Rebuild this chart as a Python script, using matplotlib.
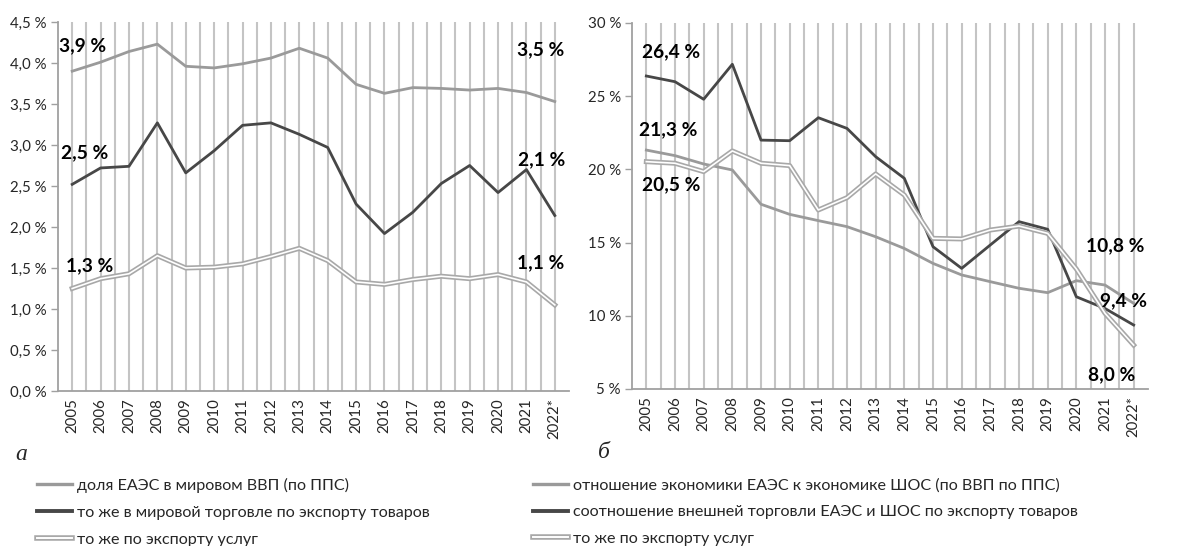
import matplotlib
matplotlib.use('Agg')
import matplotlib.pyplot as plt
from matplotlib.lines import Line2D
from matplotlib.legend_handler import HandlerTuple
from matplotlib.ticker import FuncFormatter, FixedLocator

plt.rcParams['font.family'] = ['Lato', 'DejaVu Sans']

# ---------------- data ----------------
years = list(range(2005, 2023))
year_labels = [str(y) for y in years[:-1]] + ['2022*']

# panel а (% of world)
gdp_share = [3.90, 4.01, 4.14, 4.23, 3.96, 3.94, 3.99, 4.06, 4.18, 4.06,
             3.74, 3.63, 3.70, 3.69, 3.67, 3.69, 3.64, 3.53]
goods_share = [2.52, 2.72, 2.74, 3.27, 2.66, 2.93, 3.24, 3.27, 3.13, 2.97,
               2.28, 1.92, 2.18, 2.53, 2.75, 2.42, 2.70, 2.14]
services_share = [1.25, 1.37, 1.43, 1.65, 1.50, 1.51, 1.55, 1.64, 1.74, 1.59,
                  1.33, 1.30, 1.36, 1.40, 1.37, 1.42, 1.33, 1.05]

# panel б (EAEU vs SCO, %)
gdp_ratio = [21.32, 20.94, 20.37, 19.96, 17.62, 16.93, 16.50, 16.09, 15.40, 14.60,
             13.58, 12.79, 12.33, 11.88, 11.58, 12.40, 12.10, 10.85]
goods_ratio = [26.38, 25.99, 24.79, 27.18, 22.00, 21.96, 23.53, 22.80, 20.87, 19.39,
               14.72, 13.24, 14.84, 16.43, 15.91, 11.30, 10.50, 9.37]
services_ratio = [20.53, 20.42, 19.85, 21.26, 20.42, 20.26, 17.23, 18.07, 19.69, 18.25,
                  15.29, 15.25, 15.86, 16.13, 15.63, 13.20, 10.17, 8.00]

legend_a = ['доля ЕАЭС в мировом ВВП (по ППС)',
            'то же в мировой торговле по экспорту товаров',
            'то же по экспорту услуг']
legend_b = ['отношение экономики ЕАЭС к экономике ШОС (по ВВП по ППС)',
            'соотношение внешней торговли ЕАЭС и ШОС по экспорту товаров',
            'то же по экспорту услуг']

labels_a = ['3,9 %', '2,5 %', '1,3 %', '3,5 %', '2,1 %', '1,1 %']
labels_b = ['26,4 %', '21,3 %', '20,5 %', '10,8 %', '9,4 %', '8,0 %']

# ---------------- style ----------------
C_LIGHT = '#9a9a9a'
C_DARK = '#474747'
C_DOUBLE = '#a8a8a8'
C_GRID = '#c4c4c4'
C_AXIS = '#a0a0a0'
TXT = '#262626'

W, H = 1178, 546
fig = plt.figure(figsize=(W / 100, H / 100), dpi=100)


def px_axes(x0, x1, ytop, ybot):
    return fig.add_axes([x0 / W, 1 - ybot / H, (x1 - x0) / W, (ybot - ytop) / H])


def style(ax, ylim, yticks, fmt):
    ax.set_xlim(2004.5, 2022.5)
    ax.set_ylim(*ylim)
    ax.xaxis.set_major_locator(FixedLocator(years))
    ax.set_xticklabels(year_labels, rotation=90, fontsize=10.8, color=TXT)
    ax.xaxis.set_minor_locator(FixedLocator([y + 0.5 for y in years[:-1]]))
    ax.grid(True, which='both', axis='x', color=C_GRID, lw=1.5, zorder=0)
    ax.set_yticks(yticks)
    ax.yaxis.set_major_formatter(FuncFormatter(fmt))
    ax.tick_params(axis='y', labelsize=10.8, labelcolor=TXT, color=C_AXIS,
                   length=5, width=1, pad=3)
    ax.tick_params(axis='x', which='both', length=0, pad=5)
    for s in ['top', 'right']:
        ax.spines[s].set_visible(False)
    for s in ['left', 'bottom']:
        ax.spines[s].set_color(C_AXIS)
        ax.spines[s].set_linewidth(1.3)
    ax.set_axisbelow(True)


def plot_double(ax, x, y):
    ax.plot(x, y, color=C_DOUBLE, lw=3.6, solid_joinstyle='round', zorder=3)
    ax.plot(x, y, color='white', lw=1.2, solid_joinstyle='round', zorder=4)


# ---------------- panel а ----------------
ax1 = px_axes(58, 569, 22, 391)
style(ax1, (0, 4.5), [i * 0.5 for i in range(10)],
      lambda v, p: f'{v:.1f} %'.replace('.', ','))
ax1.plot(years, gdp_share, color=C_LIGHT, lw=2.0, zorder=3)
ax1.plot(years, goods_share, color=C_DARK, lw=2.0, zorder=3)
plot_double(ax1, years, services_share)

lab_kw = dict(fontsize=13.8, fontweight='bold', color='black', va='center', zorder=5)
ax1.text(2004.55, 4.21, labels_a[0], ha='left', **lab_kw)
ax1.text(2004.61, 2.90, labels_a[1], ha='left', **lab_kw)
ax1.text(2004.79, 1.53, labels_a[2], ha='left', **lab_kw)
ax1.text(2022.35, 4.16, labels_a[3], ha='right', **lab_kw)
ax1.text(2022.38, 2.82, labels_a[4], ha='right', **lab_kw)
ax1.text(2022.35, 1.56, labels_a[5], ha='right', **lab_kw)

# ---------------- panel б ----------------
ax2 = px_axes(632, 1148, 23, 389)
style(ax2, (5, 30), [5, 10, 15, 20, 25, 30], lambda v, p: f'{v:.0f} %')
ax2.plot(years, gdp_ratio, color=C_LIGHT, lw=2.0, zorder=3)
ax2.plot(years, goods_ratio, color=C_DARK, lw=2.0, zorder=3)
plot_double(ax2, years, services_ratio)

ax2.text(2004.84, 28.04, labels_b[0], ha='left', **lab_kw)
ax2.text(2004.73, 22.74, labels_b[1], ha='left', **lab_kw)
ax2.text(2004.84, 18.93, labels_b[2], ha='left', **lab_kw)
ax2.text(2022.39, 14.77, labels_b[3], ha='right', **lab_kw)
ax2.text(2022.46, 11.03, labels_b[4], ha='right', **lab_kw)
ax2.text(2022.07, 5.96, labels_b[5], ha='right', **lab_kw)

# ---------------- panel letters ----------------
fig.text(21 / W, 1 - 454 / H, 'а', fontsize=17, style='italic',
         family='Liberation Serif', ha='center', va='center', color=TXT)
fig.text(604 / W, 1 - 452 / H, 'б', fontsize=17, style='italic',
         family='Liberation Serif', ha='center', va='center', color=TXT)

# ---------------- legends ----------------
def handles():
    h1 = Line2D([], [], color=C_LIGHT, lw=2.4)
    h2 = Line2D([], [], color=C_DARK, lw=2.8)
    h3 = (Line2D([], [], color=C_DOUBLE, lw=4.0), Line2D([], [], color='white', lw=1.4))
    return [h1, h2, h3]


leg_kw = dict(loc='upper left', frameon=False, fontsize=11.6, handlelength=2.2,
              handletextpad=0.3, labelspacing=0.78, borderpad=0, borderaxespad=0,
              handler_map={tuple: HandlerTuple(ndivide=1, pad=0)})
l1 = fig.legend(handles(), legend_a, bbox_to_anchor=(37 / W, 1 - 478 / H), **leg_kw)
l2 = fig.legend(handles(), legend_b, bbox_to_anchor=(533 / W, 1 - 478 / H), **leg_kw)
for lg in (l1, l2):
    for t in lg.get_texts():
        t.set_color(TXT)

fig.savefig('out.png', dpi=100)
